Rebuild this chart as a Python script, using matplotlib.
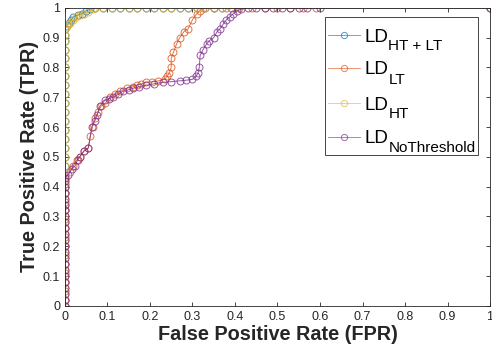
import matplotlib.pyplot as plt
from matplotlib.lines import Line2D
from matplotlib.patches import Rectangle

plt.rcParams['font.family'] = ['Liberation Sans', 'DejaVu Sans']

# ROC points
zero_col = [0, 0.02, 0.05, 0.08, 0.11, 0.14, 0.17, 0.2, 0.23, 0.26, 0.29, 0.32,
            0.35, 0.38, 0.41, 0.44, 0.47, 0.5, 0.53, 0.56, 0.59, 0.62, 0.65,
            0.68, 0.71, 0.74, 0.77, 0.8, 0.83, 0.86, 0.89, 0.91, 0.93]
top_row = [0.07, 0.09, 0.11, 0.13, 0.15, 0.17, 0.19, 0.21, 0.23, 0.25, 0.27,
           0.29, 0.31, 0.33, 0.35, 0.37, 0.39]

fpr_htlt = [0] * len(zero_col) + [0.005, 0.01, 0.015, 0.02, 0.03, 0.04, 0.05, 0.06] + top_row + [1]
tpr_htlt = zero_col + [0.94, 0.95, 0.96, 0.97, 0.975, 0.98, 0.99, 0.995] + [1] * len(top_row) + [1]

fpr_ht = [0] * len(zero_col) + [0.004, 0.008, 0.012, 0.018, 0.025, 0.035, 0.045, 0.055, 0.065] + top_row + [0.41, 1]
tpr_ht = zero_col + [0.94, 0.945, 0.95, 0.96, 0.97, 0.975, 0.98, 0.985, 0.995] + [1] * len(top_row) + [1, 1]

low_col = [0, 0.02, 0.04, 0.06, 0.08, 0.1, 0.12, 0.14, 0.16, 0.18, 0.2, 0.22,
           0.24, 0.26, 0.28, 0.3, 0.32, 0.34, 0.36, 0.38, 0.4, 0.42, 0.43]

fpr_lt = [0] * len(low_col) + [0.012, 0.02, 0.028, 0.035, 0.045, 0.055, 0.06, 0.065, 0.07,
                               0.078, 0.085, 0.095, 0.106, 0.118, 0.13, 0.145, 0.16, 0.17,
                               0.18, 0.19, 0.205, 0.22, 0.235, 0.24, 0.245, 0.25, 0.25,
                               0.255, 0.263, 0.27, 0.28, 0.29, 0.3, 0.31, 0.318, 0.325,
                               0.35, 0.38, 0.41, 0.44, 0.47, 0.5, 0.53, 0.56, 0.59, 1]
tpr_lt = low_col + [0.45, 0.47, 0.49, 0.5, 0.52, 0.53, 0.57, 0.6, 0.63, 0.65, 0.67, 0.68,
                    0.7, 0.71, 0.72, 0.73, 0.735, 0.74, 0.745, 0.75, 0.752, 0.755,
                    0.76, 0.77, 0.78, 0.8, 0.83, 0.85, 0.88, 0.9, 0.92, 0.93, 0.96,
                    0.98, 0.99, 1.0, 1, 1, 1, 1, 1, 1, 1, 1, 1, 1]

fpr_none = [0] * len(low_col) + [0.008, 0.016, 0.024, 0.03, 0.035, 0.045, 0.055, 0.063,
                                 0.07, 0.076, 0.082, 0.094, 0.104, 0.113, 0.125, 0.137,
                                 0.15, 0.16, 0.175, 0.19, 0.21, 0.23, 0.25, 0.27, 0.285,
                                 0.3, 0.308, 0.313, 0.316, 0.318, 0.325, 0.334, 0.34,
                                 0.35, 0.358, 0.365, 0.372, 0.38, 0.388, 0.396, 0.405,
                                 0.415, 0.43, 0.45, 0.47, 0.49, 0.51, 0.53, 0.55, 0.57,
                                 0.6, 1]
tpr_none = low_col + [0.44, 0.46, 0.47, 0.49, 0.5, 0.52, 0.53, 0.6, 0.62, 0.64, 0.67,
                      0.69, 0.695, 0.7, 0.71, 0.72, 0.725, 0.73, 0.735, 0.74, 0.745,
                      0.75, 0.752, 0.755, 0.757, 0.76, 0.77, 0.78, 0.8, 0.84, 0.86,
                      0.88, 0.89, 0.9, 0.92, 0.93, 0.945, 0.96, 0.97, 0.98, 0.99,
                      0.995, 1.0, 1, 1, 1, 1, 1, 1, 1, 1, 1]

subscripts = ['HT + LT', 'LT', 'HT', 'NoThreshold']
colors = ['#0072BD', '#D95319', '#EDB120', '#7E2F8E']

W, H = 492, 354
fig = plt.figure(figsize=(W / 100, H / 100), dpi=100)
ax = fig.add_axes([0.132, 0.136, 0.864, 0.842])

series = [(fpr_htlt, tpr_htlt), (fpr_lt, tpr_lt), (fpr_ht, tpr_ht), (fpr_none, tpr_none)]
for (x, y), c in zip(series, colors):
    ax.plot(x, y, '-o', color=c, lw=0.7, ms=5, mfc='none', mew=0.7, alpha=0.8)

ax.set_xlim(0, 1)
ax.set_ylim(0, 1)
ticks = [0, 0.1, 0.2, 0.3, 0.4, 0.5, 0.6, 0.7, 0.8, 0.9, 1]
ticklabels = ['0', '0.1', '0.2', '0.3', '0.4', '0.5', '0.6', '0.7', '0.8', '0.9', '1']
ax.set_xticks(ticks)
ax.set_xticklabels(ticklabels)
ax.set_yticks(ticks)
ax.set_yticklabels(ticklabels)
ax.tick_params(direction='in', top=True, right=True, labelsize=9,
               colors='#262626', length=3, width=0.6)
for s in ax.spines.values():
    s.set_color('#262626')
    s.set_linewidth(0.6)

ax.set_xlabel('False Positive Rate (FPR)', fontsize=14.3, fontweight='bold',
              color='#262626', labelpad=2)
ax.set_ylabel('True Positive Rate (TPR)', fontsize=14.3, fontweight='bold',
              color='#262626', labelpad=3)

# legend drawn by hand so the subscripts can be large like MATLAB's
def fx(px):
    return px / W


def fy(py):
    return 1 - py / H


fig.patches.append(Rectangle((fx(325), fy(155)), fx(478) - fx(325), fy(17) - fy(155),
                             transform=fig.transFigure, fill=True, fc='white',
                             ec='#262626', lw=0.6, zorder=5))
renderer = fig.canvas.get_renderer()
row_y = [35, 68, 103, 137]
for yy, sub, c in zip(row_y, subscripts, colors):
    fig.lines.append(Line2D([fx(328), fx(360)], [fy(yy), fy(yy)], color=c, lw=0.7,
                            alpha=0.6, transform=fig.transFigure, zorder=6))
    fig.lines.append(Line2D([fx(344)], [fy(yy)], marker='o', ms=4.5, mfc='none',
                            mew=0.7, color=c, alpha=0.7, transform=fig.transFigure,
                            zorder=6))
    t = fig.text(fx(364), fy(yy + 6.5), 'LD', fontsize=13.5, va='baseline',
                 ha='left', color='black', zorder=7)
    bb = t.get_window_extent(renderer)
    fig.text(bb.x1 / W + fx(0.5), fy(yy + 15.5), sub, fontsize=11, va='baseline',
             ha='left', color='black', zorder=7)

fig.savefig('out.png', dpi=100)
